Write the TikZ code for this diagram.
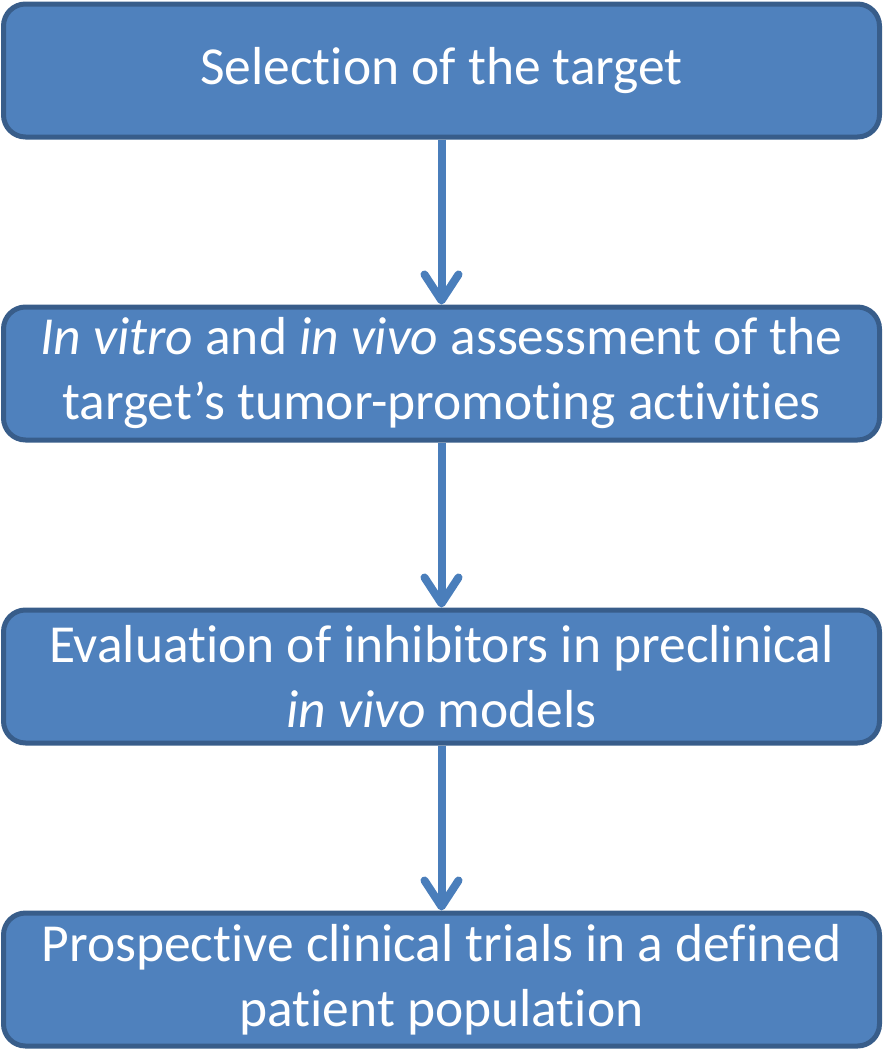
\documentclass[tikz,border=0pt]{standalone}
\usepackage{fontspec}
\setmainfont{Carlito}[Ligatures=NoCommon]
\usetikzlibrary{positioning,arrows.meta}
\definecolor{boxfill}{HTML}{4F81BD}
\definecolor{boxline}{HTML}{385D8A}
\definecolor{arrowcol}{HTML}{4A7EBB}
\begin{document}
\begin{tikzpicture}[x=1pt,y=1pt,
    stage/.style={draw=boxline,fill=boxfill,line width=5pt,rounded corners=22pt,
        minimum width=876pt,minimum height=133pt,align=center,text=white,
        font=\fontsize{53.5}{65}\selectfont},
    flow/.style={draw=arrowcol,line width=8pt,
        -{Straight Barb[length=26pt,width=34pt,line cap=round,line join=round]}},
    node distance=165pt]
    % The page: same size as the original picture
    \useasboundingbox (0,0) rectangle (883,-1050);

    % Stages:
    % Are placed one below the other, the first one is fixed by its centre
    \node [stage] (target) at (441.5,-70.5) {Selection of the target};
    \node [stage,below=of target] (assess)
        {\textit{In vitro} and \textit{in vivo} assessment of the\\
         target’s tumor-promoting activities};
    \node [stage,below=of assess] (inhib)
        {Evaluation of inhibitors in preclinical\\
         \textit{in vivo} models};
    \node [stage,below=of inhib] (trials)
        {Prospective clinical trials in a defined\\
         patient population};

    % Arrows:
    % Run from the bottom of one stage to the top of the next
    \draw [flow] (target) -- (assess);
    \draw [flow] (assess) -- (inhib);
    \draw [flow] (inhib) -- (trials);
\end{tikzpicture}
\end{document}
